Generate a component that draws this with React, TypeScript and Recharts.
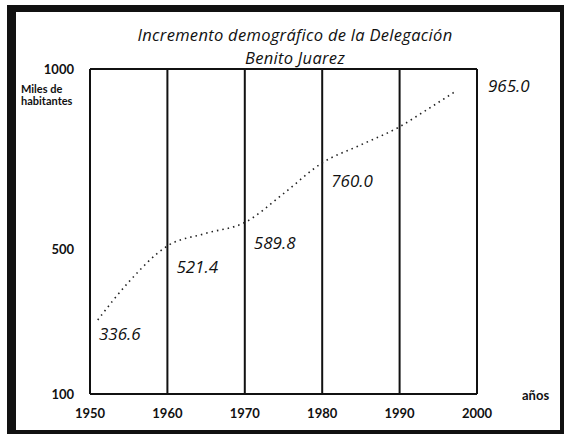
import React from 'react';
import {
  ComposedChart, Line, XAxis, YAxis, CartesianGrid, ReferenceLine, LabelList,
} from 'recharts';

// labelled census values (miles de habitantes)
const censusYears = [1950, 1960, 1970, 1980, 2000];
const censusValues = [336.6, 521.4, 589.8, 760.0, 965.0];

// dotted trend
const trendYears = [1951, 1955, 1960, 1965, 1970, 1975, 1980, 1985, 1990, 1993, 1997];
const trendValues = [305, 410, 510, 545, 575, 655, 740, 790, 840, 880, 935];

const xTicks = [1950, 1960, 1970, 1980, 1990, 2000];
const yTicks = [100, 500, 1000];

const census = censusYears.map((year, i) => ({ year, value: censusValues[i] }));
const trend = trendYears.map((year, i) => ({ year, value: trendValues[i] }));

const tickStyle = { fill: '#111', fontSize: 13, fontWeight: 700, fontFamily: 'Lato, "Open Sans", sans-serif' };

const titleStyle: React.CSSProperties = {
  position: 'absolute', left: 0, width: 590, textAlign: 'center', height: 22,
  fontFamily: '"Open Sans", sans-serif', fontStyle: 'italic', fontSize: 16.5, lineHeight: '22px', color: '#111',
  letterSpacing: 0.3,
};

const ValueLabel = (props: any) => {
  const { x, y, value, index } = props;
  const last = index === censusValues.length - 1;
  return (
    <text
      x={x + (last ? 11 : 9)}
      y={y + (last ? 4 : 25)}
      dominantBaseline="central"
      fontFamily='"Open Sans", sans-serif'
      fontStyle="italic"
      fontSize={17}
      fill="#111"
    >
      {Number(value).toFixed(1)}
    </text>
  );
};

export default function App() {
  return (
    <div style={{ position: 'fixed', left: 0, top: 0, width: 565, height: 436, background: '#fff' }}>
      <div style={{
        position: 'absolute', left: 7, top: 5, width: 544, height: 418,
        borderLeft: '9px solid #111', borderTop: '7px solid #111',
        borderRight: '4px solid #111', borderBottom: '4px solid #111',
      }} />
      <div style={{ ...titleStyle, top: 24 }}>Incremento demográfico de la Delegación</div>
      <div style={{ ...titleStyle, top: 47 }}>Benito Juarez</div>
      <div style={{
        position: 'absolute', left: 21, top: 83, fontFamily: 'Lato, sans-serif', fontWeight: 700,
        fontSize: 11, lineHeight: '12px', color: '#111',
      }}>
        Miles de<br />habitantes
      </div>
      <div style={{
        position: 'absolute', left: 522, top: 387, fontFamily: 'Lato, sans-serif', fontWeight: 700,
        fontSize: 13, color: '#111',
      }}>
        años
      </div>
      <div style={{ position: 'absolute', left: 0, top: 0 }}>
        <ComposedChart width={565} height={436} margin={{ top: 69, right: 88, bottom: 0, left: 0 }}>
          <CartesianGrid vertical horizontal={false} stroke="#111" strokeWidth={2} />
          <XAxis
            dataKey="year" type="number" domain={[1950, 2000]} ticks={xTicks}
            axisLine={{ stroke: '#111', strokeWidth: 2 }} tickLine={false} tickMargin={9}
            tick={tickStyle} height={42} allowDuplicatedCategory={false}
          />
          <YAxis
            dataKey="value" type="number" domain={[100, 1000]} ticks={yTicks}
            axisLine={{ stroke: '#111', strokeWidth: 2 }} tickLine={false} tickMargin={10}
            tick={tickStyle} width={90}
          />
          <ReferenceLine y={1000} stroke="#111" strokeWidth={2} ifOverflow="visible" />
          <Line
            data={trend} dataKey="value" type="monotone" stroke="#222" strokeWidth={1.6}
            strokeDasharray="1.5 4" dot={false} isAnimationActive={false}
          />
          <Line
            data={census} dataKey="value" stroke="none" dot={false} isAnimationActive={false}
          >
            <LabelList dataKey="value" content={<ValueLabel />} />
          </Line>
        </ComposedChart>
      </div>
    </div>
  );
}
